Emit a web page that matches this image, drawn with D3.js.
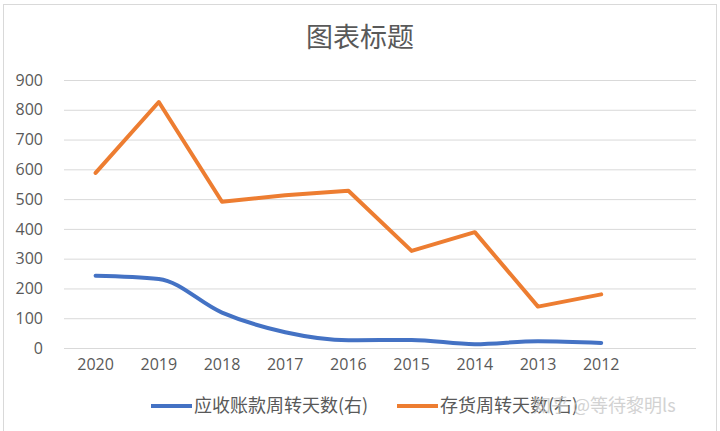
<!DOCTYPE html>
<html><head><meta charset="utf-8">
<script src="https://cdn.jsdelivr.net/npm/d3@7"></script>
<style>html,body{margin:0;padding:0;background:#fff;}svg{display:block;}</style>
</head><body>
<svg id="c" width="720" height="431"></svg>
<script>
const categories = ["2020","2019","2018","2017","2016","2015","2014","2013","2012",""];
const receivableDays = [243,232,119,53,26,27,13,23,17];
const inventoryDays = [588,826,491,513,528,326,389,139,180];
const yTicks = [0,100,200,300,400,500,600,700,800,900];
const seriesNames = ["应收账款周转天数(右)","存货周转天数(右)"];
const colors = ["#4472C4","#ED7D31"];
const titleText = "图表标题";
const watermark = "知乎 @等待黎明ls";

const svg = d3.select("#c");
const font = "'Noto Sans CJK SC','Noto Sans',sans-serif";
const numFont = "'Open Sans','Noto Sans',sans-serif";
svg.append("rect").attr("x",3.5).attr("y",4.5).attr("width",713).attr("height",440)
  .attr("fill","#fff").attr("stroke","#d9d9d9");

const m = {l:64, r:696, t:80, b:348};
const x = d3.scaleBand().domain(categories).range([m.l,m.r]);
const y = d3.scaleLinear().domain([0,900]).range([m.b,m.t]);

svg.append("text").attr("x",360).attr("y",47).attr("text-anchor","middle")
  .attr("font-family",font).attr("font-size",27).attr("fill","#595959").text(titleText);

const yAxis = svg.append("g").attr("transform",`translate(${m.l},0)`)
  .call(d3.axisLeft(y).tickValues(yTicks).tickSize(-(m.r-m.l)).tickPadding(21));
yAxis.select(".domain").remove();
yAxis.selectAll("line").attr("stroke","#d9d9d9").attr("stroke-width",1);
yAxis.selectAll("text").attr("font-family",numFont).attr("font-size",16).attr("fill","#595959");

const xAxis = svg.append("g").attr("transform",`translate(0,${m.b})`)
  .call(d3.axisBottom(x).tickSize(0).tickPadding(11));
xAxis.select(".domain").remove();
xAxis.selectAll("text").attr("font-family",numFont).attr("font-size",16).attr("fill","#595959");

const cx = (d,i)=>x(categories[i])+x.bandwidth()/2;
svg.append("path").datum(receivableDays)
  .attr("d",d3.line().x(cx).y(d=>y(d)).curve(d3.curveMonotoneX))
  .attr("fill","none").attr("stroke",colors[0]).attr("stroke-width",4).attr("stroke-linejoin","round").attr("stroke-linecap","round");
svg.append("path").datum(inventoryDays)
  .attr("d",d3.line().x(cx).y(d=>y(d)))
  .attr("fill","none").attr("stroke",colors[1]).attr("stroke-width",4).attr("stroke-linejoin","round").attr("stroke-linecap","round");

const legX = [151,397];
seriesNames.forEach((n,i)=>{
  svg.append("line").attr("x1",legX[i]).attr("x2",legX[i]+41).attr("y1",406).attr("y2",406)
    .attr("stroke",colors[i]).attr("stroke-width",4);
  svg.append("text").attr("x",legX[i]+43).attr("y",412).attr("font-family",font)
    .attr("font-size",18).attr("fill","#595959").text(n);
});
svg.append("text").attr("x",533).attr("y",412).attr("font-family",font)
  .attr("font-size",18).attr("fill","#c8c8c8").attr("opacity",0.8).text(watermark);
</script>
</body></html>
